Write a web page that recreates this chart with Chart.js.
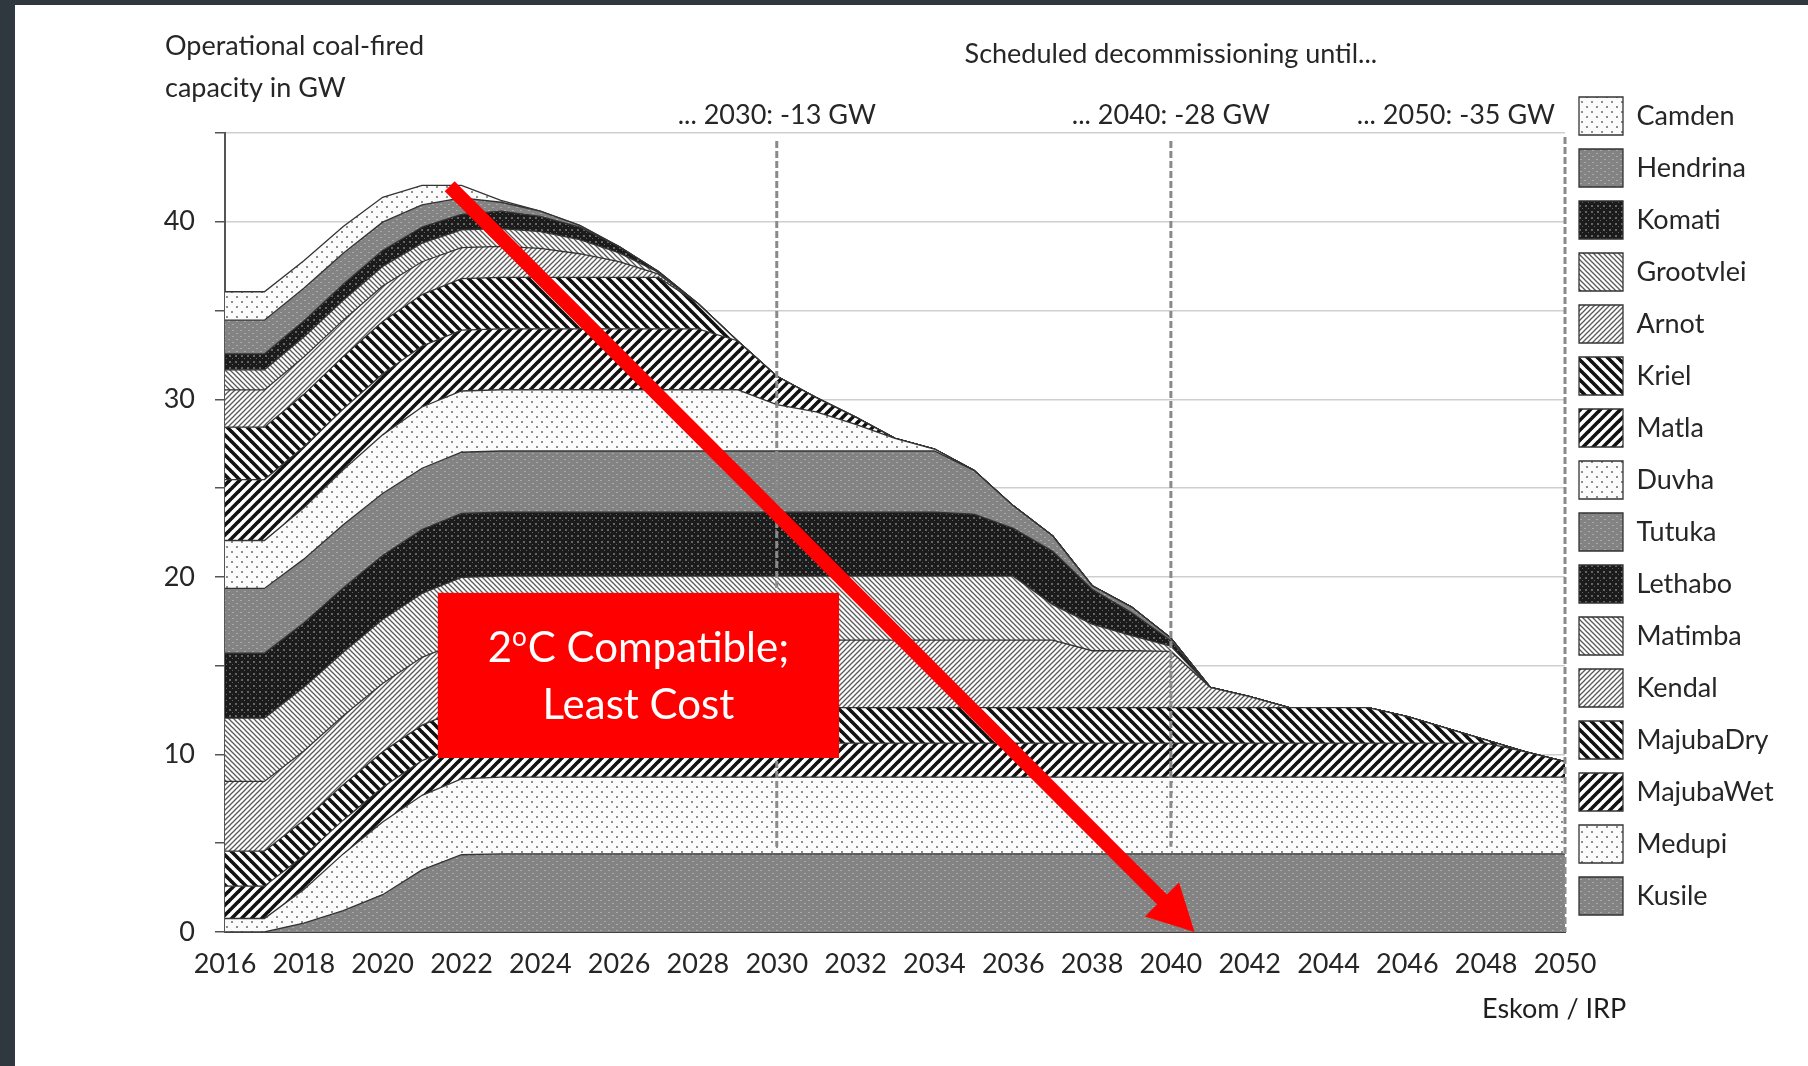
<!DOCTYPE html>
<html>
<head>
<meta charset="utf-8">
<script src="https://cdn.jsdelivr.net/npm/chart.js@4.4.1/dist/chart.umd.min.js"></script>
<style>
html,body{margin:0;padding:0;width:1808px;height:1066px;overflow:hidden;background:#2f383e}
#paper{position:absolute;left:15px;top:5px;width:1793px;height:1061px;background:#ffffff}
#c{position:absolute;left:0;top:0}
</style>
</head>
<body>
<div id="paper"></div>
<canvas id="c" width="1808" height="1066"></canvas>
<script>
// ---------------- DATA ----------------
const years = [2016,2017,2018,2019,2020,2021,2022,
  2023,2024,2025,2026,2027,2028,2029,2030,2031,2032,
  2033,2034,2035,2036,2037,2038,2039,2040,2041,2042,
  2043,2044,2045,2046,2047,2048,2049,2050];

// capacity in GW per plant (stacked bottom -> top)
const kusile = [0,0,0.5,1.2,2.1,3.5,4.35,
  4.4,4.4,4.4,4.4,4.4,4.4,4.4,4.4,4.4,4.4,
  4.4,4.4,4.4,4.4,4.4,4.4,4.4,4.4,4.4,4.4,
  4.4,4.4,4.4,4.4,4.4,4.4,4.4,4.4];
const medupi = [0.76,0.76,1.9,3.2,4.1,4.2,4.27,
  4.32,4.32,4.32,4.32,4.32,4.32,4.32,4.32,4.32,4.32,
  4.32,4.32,4.32,4.32,4.32,4.32,4.32,4.32,4.32,4.32,
  4.32,4.32,4.32,4.32,4.32,4.32,4.32,4.32];
const majubaWet = [1.82,1.82,1.9,1.9,1.95,1.95,1.95,
  1.92,1.92,1.92,1.92,1.92,1.92,1.92,1.92,1.92,1.92,
  1.92,1.92,1.92,1.92,1.92,1.92,1.92,1.92,1.92,1.92,
  1.92,1.92,1.92,1.92,1.92,1.92,1.43,0.87];
const majubaDry = [1.97,1.97,2,2,2,2,2,
  2,2,2,2,2,2,2,2,2,2,
  2,2,2,2,2,2,2,2,2,2,
  2,2,2,1.49,0.83,0.17,0,0];
const kendal = [3.93,3.93,3.9,3.88,3.85,3.82,3.8,
  3.8,3.8,3.8,3.8,3.8,3.8,3.8,3.8,3.8,3.8,
  3.8,3.8,3.8,3.8,3.8,3.2,3.2,3.16,1.14,0.61,
  0,0,0,0,0,0,0,0];
const matimba = [3.57,3.57,3.58,3.58,3.6,3.6,3.6,
  3.6,3.6,3.6,3.6,3.6,3.6,3.6,3.6,3.6,3.6,
  3.6,3.6,3.6,3.6,2.0,1.5,0.85,0.3,0,0,
  0,0,0,0,0,0,0,0];
const lethabo = [3.65,3.65,3.62,3.62,3.6,3.6,3.6,
  3.6,3.6,3.6,3.6,3.6,3.6,3.6,3.6,3.6,3.6,
  3.6,3.6,3.5,2.7,3.0,1.96,1.3,0.3,0,0,
  0,0,0,0,0,0,0,0];
const tutuka = [3.65,3.65,3.6,3.55,3.5,3.45,3.45,
  3.45,3.45,3.45,3.45,3.45,3.45,3.45,3.45,3.45,3.45,
  3.45,3.45,2.46,1.26,0.86,0.2,0.31,0.15,0,0,
  0,0,0,0,0,0,0,0];
const duvha = [2.7,2.7,2.9,3.1,3.3,3.45,3.45,
  3.45,3.45,3.45,3.45,3.45,3.45,3.45,2.61,2.2,1.5,
  0.71,0.11,0,0,0,0,0,0,0,0,
  0,0,0,0,0,0,0,0];
const matla = [3.43,3.43,3.43,3.43,3.43,3.43,3.43,
  3.43,3.43,3.43,3.43,3.43,3.43,2.76,1.6,0.81,0.41,
  0,0,0,0,0,0,0,0,0,0,
  0,0,0,0,0,0,0,0];
const kriel = [2.95,2.95,2.95,2.95,2.95,2.9,2.9,
  2.9,2.9,2.9,2.9,2.9,1.43,0,0,0,0,
  0,0,0,0,0,0,0,0,0,0,
  0,0,0,0,0,0,0,0];
const arnot = [2.1,2.1,2.1,2.05,2.0,1.85,1.75,
  1.75,1.63,1.33,0.88,0.18,0,0,0,0,0,
  0,0,0,0,0,0,0,0,0,0,
  0,0,0,0,0,0,0,0];
const grootvlei = [1.13,1.13,1.13,1.12,1.1,1.05,1.0,
  1.0,0.95,0.8,0.5,0.1,0,0,0,0,0,
  0,0,0,0,0,0,0,0,0,0,
  0,0,0,0,0,0,0,0];
const komati = [0.9,0.9,0.9,0.9,0.9,0.9,0.87,
  0.98,0.85,0.7,0.35,0.05,0,0,0,0,0,
  0,0,0,0,0,0,0,0,0,0,
  0,0,0,0,0,0,0,0];
const hendrina = [1.9,1.9,1.85,1.75,1.6,1.25,0.93,
  0.5,0.3,0.1,0,0,0,0,0,0,0,
  0,0,0,0,0,0,0,0,0,0,
  0,0,0,0,0,0,0,0];
const camden = [1.6,1.6,1.55,1.5,1.4,1.1,0.7,
  0.1,0,0,0,0,0,0,0,0,0,
  0,0,0,0,0,0,0,0,0,0,
  0,0,0,0,0,0,0,0];

const plantNames = ['Kusile','Medupi','MajubaWet','MajubaDry','Kendal','Matimba','Lethabo','Tutuka',
  'Duvha','Matla','Kriel','Arnot','Grootvlei','Komati','Hendrina','Camden'];
const plantValues = [kusile,medupi,majubaWet,majubaDry,kendal,matimba,lethabo,tutuka,
  duvha,matla,kriel,arnot,grootvlei,komati,hendrina,camden];
const plantFills = ['grey','dots','boldFwd','boldBack','lightFwd','lightBack','black','grey',
  'dots','boldFwd','boldBack','lightFwd','lightBack','black','grey','dots'];

const yTickLabels = [0,10,20,30,40];
const xTickLabels = [2016,2018,2020,2022,2024,2026,2028,2030,2032,2034,2036,2038,2040,2042,2044,2046,2048,2050];

const decommissionYears = [2030,2040,2050];
const decommissionLabels = ['... 2030: -13 GW','... 2040: -28 GW','... 2050: -35 GW'];

// ---------------- PATTERNS ----------------
const canvas = document.getElementById('c');
const ctx0 = canvas.getContext('2d');
function tile(w,h,draw){
  const c=document.createElement('canvas'); c.width=w; c.height=h;
  const g=c.getContext('2d'); draw(g,w,h);
  return ctx0.createPattern(c,'repeat');
}
function hatch(g,s,dir,lw,col){
  g.strokeStyle=col; g.lineWidth=lw; g.lineCap='butt';
  for(let k=-1;k<=1;k++){
    g.beginPath();
    if(dir==='/'){ g.moveTo(k*s-1, s+1); g.lineTo(k*s+s+1, -1); }
    else { g.moveTo(k*s-1, -1); g.lineTo(k*s+s+1, s+1); }
    g.stroke();
  }
}
const patterns = {
  dots: tile(10,10,(g)=>{g.fillStyle='#fbfbfb';g.fillRect(0,0,10,10);g.fillStyle='#8e8e8e';g.fillRect(1,1,2,2);g.fillRect(6,6,2,2);}),
  grey: tile(8,6,(g)=>{g.fillStyle='#838383';g.fillRect(0,0,8,6);g.fillStyle='#a9a9a9';g.fillRect(0,0,2,1);g.fillRect(4,3,2,1);}),
  black: tile(6,6,(g)=>{g.fillStyle='#1b1b1b';g.fillRect(0,0,6,6);g.fillStyle='#666';g.fillRect(1,1,2,2);g.fillRect(4,4,1,1);}),
  lightBack: tile(5,5,(g,s)=>{g.fillStyle='#fff';g.fillRect(0,0,s,s);hatch(g,s,'\\',1.3,'#5a5a5a');}),
  lightFwd: tile(5,5,(g,s)=>{g.fillStyle='#fff';g.fillRect(0,0,s,s);hatch(g,s,'/',1.3,'#5a5a5a');}),
  boldBack: tile(10,10,(g,s)=>{g.fillStyle='#fff';g.fillRect(0,0,s,s);hatch(g,s,'\\',3.6,'#111');}),
  boldFwd: tile(10,10,(g,s)=>{g.fillStyle='#fff';g.fillRect(0,0,s,s);hatch(g,s,'/',3.6,'#111');})
};

// ---------------- LAYOUT HELPERS ----------------
const FONT = 'Lato, "Open Sans", sans-serif';
const TXT = '#262626';
const mctx = document.createElement('canvas').getContext('2d');
mctx.font = '27px ' + FONT;
const maxLabelW = Math.max(...plantNames.map(n => mctx.measureText(n).width));
const legendPad = 14, legendBoxW = 44, legendBoxH = 38;
const legendWidth = legendPad + legendBoxW + 27/2 + maxLabelW + 10;
const plotRight = 1565;
const padRight = Math.max(0, 1808 - plotRight - legendWidth);

// ---------------- ANNOTATION PLUGIN ----------------
const overlay = {
  id: 'overlay',
  afterDatasetsDraw(chart){
    const {ctx, scales:{x, y}, chartArea} = chart;
    ctx.save();
    // dashed decommissioning lines
    ctx.strokeStyle = '#8a8a8a'; ctx.lineWidth = 3; ctx.setLineDash([7,3]);
    decommissionYears.forEach((yr, i) => {
      const px = x.getPixelForValue(yr);
      const yTop = chartArea.top + (i === 2 ? 4 : 8);
      const yBot = i === 2 ? chartArea.bottom : y.getPixelForValue(4.8);
      ctx.beginPath(); ctx.moveTo(px, yTop); ctx.lineTo(px, yBot); ctx.stroke();
    });
    ctx.setLineDash([]);

    // red box with text
    const bx0 = x.getPixelForValue(2021.4), bx1 = x.getPixelForValue(2031.58);
    const by0 = y.getPixelForValue(19.1), by1 = y.getPixelForValue(9.8);
    ctx.fillStyle = '#ff0000';
    ctx.fillRect(bx0, by0, bx1 - bx0, by1 - by0);
    const cx = (bx0 + bx1) / 2, cy = (by0 + by1) / 2;
    ctx.fillStyle = '#ffffff';
    ctx.textBaseline = 'alphabetic';
    ctx.textAlign = 'left';
    const big = '42px ' + FONT, small = '26px ' + FONT;
    ctx.font = big; const w2 = ctx.measureText('2').width; const wRest = ctx.measureText('C Compatible;').width;
    ctx.font = small; const wo = ctx.measureText('o').width + 1;
    let tx = cx - (w2 + wo + wRest) / 2;
    const base1 = cy - 13;
    ctx.font = big; ctx.fillText('2', tx, base1); tx += w2;
    ctx.font = small; ctx.fillText('o', tx, base1 - 16); tx += wo;
    ctx.font = big; ctx.fillText('C Compatible;', tx, base1);
    ctx.textAlign = 'center';
    ctx.fillText('Least Cost', cx, cy + 44);

    // red arrow
    const p0 = {x: x.getPixelForValue(2021.7), y: y.getPixelForValue(42.0)};
    const p1 = {x: x.getPixelForValue(2040.6), y: y.getPixelForValue(0)};
    const ang = Math.atan2(p1.y - p0.y, p1.x - p0.x);
    const headLen = 46, headHalf = 24;
    const hx = p1.x - headLen * Math.cos(ang), hy = p1.y - headLen * Math.sin(ang);
    ctx.strokeStyle = '#ff0000'; ctx.lineWidth = 14; ctx.lineCap = 'butt';
    ctx.beginPath(); ctx.moveTo(p0.x, p0.y);
    ctx.lineTo(hx + 3 * Math.cos(ang), hy + 3 * Math.sin(ang)); ctx.stroke();
    ctx.fillStyle = '#ff0000';
    ctx.beginPath(); ctx.moveTo(p1.x, p1.y);
    ctx.lineTo(hx + headHalf * Math.sin(ang), hy - headHalf * Math.cos(ang));
    ctx.lineTo(hx - headHalf * Math.sin(ang), hy + headHalf * Math.cos(ang));
    ctx.closePath(); ctx.fill();
    ctx.restore();
  },
  afterDraw(chart){
    const {ctx, scales:{x}, chartArea} = chart;
    ctx.save();
    ctx.fillStyle = TXT; ctx.font = '27px ' + FONT; ctx.textBaseline = 'alphabetic';
    ctx.textAlign = 'left';
    ctx.fillText('Operational coal-fired', chartArea.left - 60, 55);
    ctx.fillText('capacity in GW', chartArea.left - 60, 97);
    ctx.textAlign = 'center';
    ctx.fillText('Scheduled decommissioning until...', x.getPixelForValue(2040), 63);
    ctx.fillText(decommissionLabels[0], x.getPixelForValue(decommissionYears[0]), 124);
    ctx.fillText(decommissionLabels[1], x.getPixelForValue(decommissionYears[1]), 124);
    ctx.textAlign = 'right';
    ctx.fillText(decommissionLabels[2], x.getPixelForValue(decommissionYears[2]) - 10, 124);
    ctx.textAlign = 'left';
    ctx.fillStyle = '#1e1e1e';
    ctx.fillText('Eskom / IRP', 1482, 1018);
    ctx.restore();
  }
};

// ---------------- CHART ----------------
const datasets = plantNames.map((name, i) => ({
  label: name,
  data: plantValues[i],
  xAxisID: 'x',
  yAxisID: 'y',
  backgroundColor: patterns[plantFills[i]],
  borderColor: '#333333',
  borderWidth: 1.3,
  fill: i === 0 ? 'origin' : '-1',
  pointRadius: 0,
  pointHoverRadius: 0,
  tension: 0
}));

new Chart(canvas, {
  type: 'line',
  data: { labels: years, datasets },
  options: {
    responsive: false,
    animation: false,
    devicePixelRatio: 1,
    events: [],
    layout: { padding: { left: 0, top: 83, right: padRight, bottom: 0 } },
    plugins: {
      legend: {
        position: 'right', align: 'start', reverse: true,
        labels: { boxWidth: legendBoxW, boxHeight: legendBoxH, padding: legendPad, color: TXT,
                  font: { family: FONT, size: 27 } }
      },
      tooltip: { enabled: false }
    },
    scales: {
      x: {
        type: 'linear', min: 2016, max: 2050, position: 'bottom',
        grid: { display: false, drawTicks: false },
        border: { display: true, color: '#444', width: 2 },
        ticks: { stepSize: 2, autoSkip: false, maxRotation: 0, padding: 16, color: TXT,
                 font: { family: FONT, size: 27 },
                 callback: (v) => xTickLabels.includes(v) ? String(v) : '' },
        afterFit: (s) => { s.height = 134; }
      },
      xTop: {
        type: 'linear', position: 'top', display: true,
        grid: { display: false, drawTicks: false }, border: { display: false },
        ticks: { display: false },
        afterFit: (s) => { s.height = 50; }
      },
      y: {
        stacked: true, min: 0, max: 45,
        grid: { color: '#cfcfcf', lineWidth: 1.5, tickColor: '#555', tickLength: 10 },
        border: { display: true, color: '#555', width: 2 },
        ticks: { stepSize: 5, padding: 20, color: TXT, font: { family: FONT, size: 27 },
                 callback: (v) => yTickLabels.includes(v) ? String(v) : '' },
        afterFit: (s) => { s.width = 225; }
      }
    }
  },
  plugins: [overlay]
});
</script>
</body>
</html>
